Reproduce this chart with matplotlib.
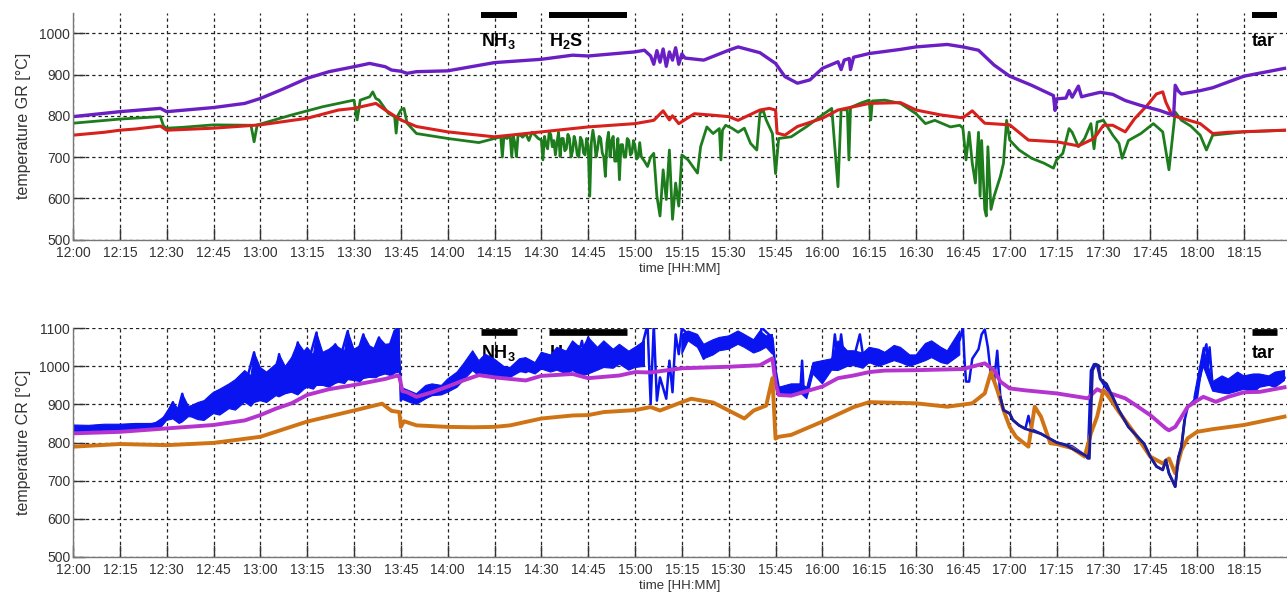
import numpy as np
import matplotlib
matplotlib.use("Agg")
import matplotlib.pyplot as plt

plt.rcParams['font.family'] = ['Liberation Sans', 'DejaVu Sans']
plt.rcParams['mathtext.fontset'] = 'custom'
plt.rcParams['mathtext.rm'] = 'Liberation Sans'
plt.rcParams['mathtext.bf'] = 'Liberation Sans:bold'

# ---------------- data (time in minutes after 12:00) ----------------
tick_minutes = list(range(0, 376, 15))
tick_labels = ["12:00", "12:15", "12:30", "12:45", "13:00", "13:15", "13:30", "13:45",
               "14:00", "14:15", "14:30", "14:45", "15:00", "15:15", "15:30", "15:45",
               "16:00", "16:15", "16:30", "16:45", "17:00", "17:15", "17:30", "17:45",
               "18:00", "18:15"]

# Upper panel: gasifier temperatures GR
gr_purple_t = [0, 15, 28, 30, 45, 55, 60, 67, 75, 82, 90, 95, 100, 102, 105, 107, 110, 120, 135, 150,
               160, 165, 180, 183, 185, 186, 187, 188, 189, 190, 191, 192, 193, 194, 195, 196, 202, 210,
               213, 220, 225, 228, 232, 236, 240, 245, 246, 247, 248.6, 249, 250, 255, 265, 270, 280,
               285, 290, 295, 300, 307, 314, 314.5, 315, 318, 319, 320, 322, 323, 325, 329, 333, 337,
               342, 348, 351, 352.5, 353, 354, 355, 361, 365, 375, 388]
gr_purple_v = [798, 810, 818, 810, 820, 830, 842, 864, 891, 907, 919, 927, 919, 911, 908, 903, 907, 909, 929, 937,
               947, 945, 955, 959, 945, 925, 958, 930, 962, 920, 955, 935, 965, 925, 950, 940, 935, 959,
               967, 953, 927, 895, 879, 887, 915, 931, 912, 935, 939, 912, 942, 951, 961, 967, 973,
               967, 959, 923, 896, 874, 849, 813, 841, 843, 861, 845, 872, 846, 850, 857, 852, 837,
               825, 813, 805, 802, 874, 860, 853, 861, 868, 896, 915]

gr_red_t = [0, 10, 15, 20, 28, 30, 45, 60, 75, 85, 90, 97, 100, 105, 110, 120, 130, 135, 140, 150, 165,
            180, 186, 189, 191, 192, 194, 199, 204, 210, 213, 220, 223, 225, 225.5, 228, 232, 240, 245,
            250, 255, 265, 270, 278, 285, 288, 292, 300, 306, 315, 322, 327, 330, 333, 337, 340, 344,
            347, 349, 350, 352, 357, 361, 365, 370, 388]
gr_red_v = [753, 760, 765, 768, 775, 765, 770, 778, 794, 814, 818, 830, 814, 790, 774, 761, 753, 749, 753, 761, 773,
            781, 789, 812, 790, 800, 781, 805, 802, 798, 789, 814, 818, 814, 758, 753, 774, 794, 814,
            822, 830, 832, 814, 802, 795, 812, 782, 778, 741, 737, 727, 745, 777, 777, 761, 793, 825,
            853, 858, 833, 801, 790, 781, 757, 760, 765]

gr_green_t = [0, 15, 28, 29, 30, 35, 45, 57, 58, 59, 60, 70, 80, 90, 91, 92, 95, 96, 97, 98, 101, 103, 103.5,
              104, 105, 106, 107, 110, 120, 130, 135,
              137, 137.5, 138, 139, 140, 140.5, 141, 141.5, 142, 142.5, 143, 144, 145, 146, 147, 148, 149,
              150, 150.5, 151, 151.5, 152, 152.5, 153, 153.5, 154, 154.5, 155, 155.5, 156, 156.5, 157, 157.5,
              158, 158.5, 159, 159.5, 160, 160.5, 161, 161.5, 162, 162.5, 163, 163.5, 164, 164.5, 165, 165.5,
              166, 166.5, 167, 167.5, 168, 168.5, 169, 169.5, 170, 170.5, 171, 171.5, 172, 172.5, 173, 173.5,
              174, 174.5, 175, 175.5, 176, 176.5, 177, 177.5, 178, 178.5, 179, 179.5, 180, 180.5, 181, 181.5,
              182, 183, 184, 185, 186,
              187, 188, 189, 190, 191, 192, 193, 194, 195, 197, 200, 201, 203, 205, 207, 207.5, 208,
              209, 211, 213, 215, 217, 219, 220, 221, 222, 224, 225, 226, 230, 235, 240, 243, 245, 246,
              248, 248.5, 249, 252, 255, 255.5, 256, 260, 265, 270, 273, 276, 281, 284, 285, 286, 287, 288,
              289, 290, 290.5, 291, 292, 292.5, 293, 294, 295, 297, 298, 299, 300, 303, 307, 311, 314, 315,
              317, 319, 320, 322, 324, 326, 327, 328, 330, 333, 335, 336, 338, 342, 346, 349, 351, 352, 353,
              355, 358, 361, 363, 365, 370, 375, 388]
gr_green_v = [782, 792, 798, 775, 770, 772, 778, 777, 737, 778, 780, 802, 822, 838, 790, 838, 846, 858, 842, 838, 806, 798, 758,
              800, 814, 818, 782, 757, 745, 735, 745,
              749, 700, 749, 745, 752, 700, 750, 735, 701, 750, 755, 748, 757, 740, 760, 753, 745,
              741, 693, 750, 730, 720, 760, 755, 725, 740, 705, 735, 760, 701, 745, 745, 715,
              720, 755, 745, 700, 715, 750, 735, 705, 700, 748, 740, 710, 705, 745, 725, 605,
              735, 765, 740, 700, 720, 750, 745, 710, 700, 653, 735, 760, 700, 740, 750, 690,
              690, 745, 645, 730, 730, 700, 700, 745, 740, 705, 710, 740, 725, 695, 700, 735,
              701, 690, 677, 700, 709,
              605, 557, 669, 597, 717, 549, 637, 581, 705, 693, 661, 725, 773, 757, 769, 693, 765,
              777, 770, 760, 770, 733, 717, 806, 814, 790, 757, 660, 745, 749, 774, 802, 818, 628, 815,
              814, 693, 820, 830, 838, 790, 836, 838, 830, 805, 781, 789, 773, 777, 770, 693, 760, 685,
              637, 760, 605, 740, 573, 557, 725, 573, 605, 653, 685, 789, 741, 717, 697, 685, 673, 693,
              709, 769, 760, 725, 745, 781, 720, 785, 789, 753, 733, 697, 740, 757, 781, 761, 669, 740, 809,
              789, 775, 753, 717, 753, 757, 761, 765]

# Lower panel: combustion reactor temperatures CR
cr_blue_t = [0, 15, 25, 30, 32, 33, 35, 36, 38, 42, 45, 50, 55, 58, 59, 60, 65, 66, 67, 70, 72, 73, 75, 78, 79,
             80, 84, 85, 88, 89, 90, 93, 94, 95, 98, 99, 100, 103, 104, 104.7, 105, 106, 108, 110, 115, 120,
             125, 128, 132, 135, 140, 145, 150, 155, 158, 162, 163, 164, 165, 166, 168, 172, 176, 180, 182,
             184, 185, 186, 187, 188, 190, 191, 192, 193, 194, 195, 197, 200, 202, 203, 207, 210, 213, 215,
             220, 220.5, 224, 225, 226, 226.5, 228, 230, 233, 233.5, 234, 235, 237, 240, 243, 244, 245, 246,
             247, 248, 250, 252, 253, 255, 260, 265, 270, 275, 280, 284, 285, 285.5, 286, 287, 288, 290, 291,
             292, 293, 294, 295, 296, 297, 298, 300, 301, 303, 305, 306, 307, 310, 315, 320, 324, 325, 326,
             327, 328, 329, 330, 333, 335, 338, 343, 345, 347, 349, 350, 351, 353, 354, 355, 356, 357, 359,
             360, 362, 363, 363.5, 364, 365, 366, 368, 370, 375, 380, 388]
cr_blue_v = [837, 840, 842, 870, 906, 865, 928, 870, 885, 900, 905, 920, 945, 1037, 950, 955, 965, 1032, 968, 980, 1063, 990, 1000, 1089, 1000,
             995, 1058, 1005, 1093, 1005, 1005, 1084, 1010, 1015, 1076, 1020, 1020, 1093, 1100, 990, 910, 930, 920, 912, 938, 950,
             985, 1015, 1005, 997, 995, 985, 1005, 1015, 1020, 1035, 1067, 1020, 1076, 1020, 1015, 1045, 1030, 1025, 1045,
             1110, 902, 1110, 910, 971, 915, 1015, 932, 1084, 1032, 1100, 1084, 1060, 1020, 1050, 1060, 1060, 1075, 1065,
             1065, 1102, 1075, 990, 945, 935, 935, 940, 945, 1015, 940, 925, 1000, 985, 1000, 1084, 1010, 1084,
             1015, 1020, 1020, 1084, 1030, 1030, 1020, 1030, 1015, 1040, 1025, 1070, 1102, 1020, 960, 960, 1020, 1045, 1084,
             1097, 1050, 975, 960, 1041, 919, 885, 876, 859, 845, 836, 870, 835, 823, 800, 790, 767, 758, 989,
             1006, 1002, 967, 954, 919, 884, 841, 797, 763, 737, 728, 754, 719, 684, 760, 789, 858, 893, 910,
             920, 1032, 1058, 1000, 1050, 945, 945, 960, 950, 955, 955, 970]

# noise envelope of the blue trace (lower / upper edge); NaN separates segments
cr_blue_band_t = [0, 5, 10, 15, 20, 25, 28, 30, 32, 34, 35, 37, 38, 40, 42, 44, 45, 47, 50, 52, 55, 57, 58, 60,
                  62, 65, 66, 68, 70, 72, 74, 75, 77, 78, 80, 82, 84, 85, 87, 88, 90, 92, 93, 95, 97, 98, 100,
                  102, 103, 104.5, np.nan,
                  105, 108, 110, 113, 115, 118, 120, 123, 125, 128, 130, 132, 135, 138, 140, 143, 145, 148, 150,
                  153, 155, 158, 160, 163, 165, 168, 170, 173, 175, 178, 180, 183, np.nan,
                  195, 197, 200, 202, 205, 207, 210, 213, 215, 218, 220, 222, 224, np.nan,
                  226, 230, 233, 235, 237, 240, 243, 245, 248, 250, 253, 255, 258, 260, 263, 265, 268, 270, 273,
                  275, 278, 280, 284, np.nan,
                  359, 362, 365, 368, 370, 373, 375, 378, 380, 383, 385, 388]
cr_blue_band_lo = [828, 830, 832, 832, 834, 835, 838, 858, 862, 850, 854, 868, 867, 860, 858, 870, 876, 872, 889, 885,
                   906, 895, 905, 910, 905, 923, 920, 928, 932, 925, 940, 945, 940, 950, 950, 945, 955, 958, 955,
                   965, 963, 960, 968, 971, 970, 975, 980, 975, 982, 985, np.nan,
                   915, 905, 900, 915, 923, 925, 932, 945, 963, 989, 975, 980, 976, 970, 971, 985, 989, 980, 993,
                   985, 990, 980, 989, 975, 980, 990, 997, 995, 1006, 990, 997, 1000, np.nan,
                   1032, 1067, 1050, 1020, 1030, 1041, 1045, 1058, 1050, 1035, 1041, 1050, 1032, np.nan,
                   928, 923, 930, 915, 980, 954, 990, 989, 1000, 1002, 995, 1010, 1000, 1006, 1015, 1010, 1000,
                   1006, 1015, 1023, 1010, 1006, 1030, np.nan,
                   900, 1000, 935, 930, 928, 935, 940, 930, 945, 950, 945, 963]
cr_blue_band_hi = [846, 845, 848, 848, 850, 850, 855, 880, 906, 885, 928, 895, 897, 905, 910, 925, 932, 940, 954, 965,
                   989, 975, 1037, 997, 985, 1006, 1032, 1000, 1023, 1063, 1040, 1050, 1030, 1089, 1037, 1045, 1058,
                   1050, 1040, 1093, 1045, 1055, 1084, 1054, 1045, 1076, 1058, 1060, 1093, 1097, np.nan,
                   945, 935, 928, 950, 954, 950, 967, 985, 1006, 1041, 1015, 1032, 1019, 1000, 997, 1020, 1023,
                   1010, 1037, 1030, 1050, 1040, 1067, 1045, 1076, 1050, 1067, 1045, 1058, 1040, 1050, 1067, np.nan,
                   1084, 1093, 1084, 1058, 1070, 1076, 1080, 1093, 1084, 1070, 1093, 1080, 1084, np.nan,
                   945, 954, 954, 945, 1010, 1015, 1020, 1067, 1041, 1041, 1035, 1050, 1045, 1037, 1055, 1050, 1030,
                   1030, 1060, 1067, 1050, 1041, 1093, np.nan,
                   920, 1050, 960, 975, 967, 985, 975, 980, 980, 975, 985, 989]

cr_navy_t = [297, 298, 300, 301, 303, 305, 310, 315, 318, 320, 324, 325.5, 326.5, 327.5, 328.5, 329, 331, 333,
             335, 338, 343, 345, 347, 349, 350, 351, 353, 354, 355, 356]
cr_navy_v = [919, 885, 876, 859, 845, 836, 823, 800, 793, 784, 767, 758, 989, 1006, 1002, 967, 954, 919,
             884, 841, 797, 763, 737, 728, 754, 719, 684, 760, 789, 858]

cr_magenta_t = [0, 15, 30, 45, 55, 60, 65, 70, 75, 82, 90, 100, 104, 104.5, 105.5, 107, 110, 115, 120, 125, 130,
                135, 145, 150, 160, 165, 175, 180, 185, 195, 210, 220, 224, 225, 226, 230, 240, 245, 250, 255,
                260, 270, 285, 292, 295, 297, 300, 305, 315, 325, 328, 330, 333, 337, 340, 345, 350, 351, 353,
                355, 357, 360, 362, 366, 370, 375, 380, 388]
cr_magenta_v = [824, 828, 837, 846, 858, 872, 889, 903, 925, 940, 951, 967, 976, 973, 935, 932, 920, 932, 947, 963, 977,
                971, 963, 975, 980, 969, 976, 985, 984, 995, 999, 1003, 1021, 955, 925, 923, 947, 969, 976, 985,
                989, 990, 993, 1008, 990, 960, 942, 937, 929, 916, 940, 932, 927, 916, 900, 872, 837, 832, 841,
                867, 894, 910, 920, 907, 920, 932, 933, 945]

cr_orange_t = [0, 15, 30, 45, 60, 75, 90, 95, 99, 102, 104.5, 105, 106, 110, 120, 128, 135, 140, 150, 160, 165, 170,
               180, 185, 188, 195, 198, 205, 210, 215, 218, 222, 224, 225, 226, 230, 240, 250, 255, 270, 280, 288,
               292, 294, 296, 298, 300, 302, 306, 308, 310, 313, 315, 320, 324, 326, 328, 330, 332, 335, 340, 345,
               349, 351, 353, 355, 357, 360, 365, 375, 388]
cr_orange_v = [789, 796, 793, 799, 815, 855, 884, 894, 902, 883, 880, 841, 856, 845, 841, 840, 841, 845, 863, 871, 872, 880,
               885, 893, 884, 906, 915, 905, 884, 863, 884, 897, 969, 810, 815, 820, 855, 893, 906, 903, 894, 903,
               929, 985, 938, 885, 841, 815, 789, 894, 868, 798, 796, 785, 763, 824, 868, 938, 916, 880, 824, 763,
               745, 758, 719, 780, 811, 828, 835, 846, 868]

# Gas dosing periods (start, end in minutes after 12:00)
nh3_period = (130.6, 142.3)
h2s_period = (152.4, 177.4)
tar_period = (377.6, 385.6)

# ---------------- figure ----------------
W, H = 1287, 592
fig = plt.figure(figsize=(W / 100, H / 100), dpi=100)

ax1 = fig.add_axes([73 / W, (H - 239.5) / H, 1214 / W, 226.8 / H])
ax2 = fig.add_axes([73 / W, (H - 556.7) / H, 1214 / W, 228.4 / H])

C_PURPLE = '#6a1fc4'
C_RED = '#d8201c'
C_GREEN = '#1d7d1d'
C_BLUE = '#0a14f0'
C_NAVY = '#1c1c96'
C_MAG = '#b534cf'
C_ORANGE = '#cf7314'

xmax = 388.8


def style(ax, ymin, ymax, ylabel):
    ax.set_xlim(0, xmax)
    ax.set_ylim(ymin, ymax)
    ax.set_xticks(tick_minutes)
    ax.set_xticklabels(tick_labels)
    ax.set_yticks(list(range(500, int(ymax) + 1, 100)))
    ax.grid(True, color='#222222', linestyle=(0, (2.6, 2.4)), linewidth=0.9)
    ax.set_axisbelow(True)
    for s in ('top', 'right'):
        ax.spines[s].set_visible(False)
    for s in ('left', 'bottom'):
        ax.spines[s].set_color('#777777')
        ax.spines[s].set_linewidth(1.0)
    ax.tick_params(direction='in', length=8.5, width=1.0, color='#333333',
                   labelsize=10, labelcolor='#333333')
    ax.tick_params(axis='x', pad=4.5)
    ax.tick_params(axis='y', pad=2)
    ax.set_ylabel(ylabel, fontsize=11.5, color='#333333', labelpad=6)
    ax.set_xlabel('time [HH:MM]', fontsize=9.5, color='#333333', labelpad=2)


def markers(ax, ybar, ytext, lw):
    for (a, b) in (nh3_period, h2s_period, tar_period):
        ax.plot([a, b], [ybar, ybar], color='black', lw=lw, solid_capstyle='butt', zorder=1.5, clip_on=False)
    ax.text(nh3_period[0], ytext, r'$\mathbf{NH_3}$', fontsize=13, ha='left', va='baseline', zorder=1.4)
    ax.text(h2s_period[0], ytext, r'$\mathbf{H_2S}$', fontsize=13, ha='left', va='baseline', zorder=1.4)
    ax.text(tar_period[0], ytext, 'tar', fontsize=13, fontweight='bold', ha='left', va='baseline', zorder=1.4)


# upper panel
style(ax1, 500, 1050, 'temperature GR [°C]')
markers(ax1, 1044, 969, 4.3)
ax1.plot(gr_green_t, gr_green_v, color=C_GREEN, lw=2.0, zorder=2)
ax1.plot(gr_red_t, gr_red_v, color=C_RED, lw=2.2, zorder=2.1)
ax1.plot(gr_purple_t, gr_purple_v, color=C_PURPLE, lw=2.4, zorder=2.2)

# lower panel
style(ax2, 500, 1100, 'temperature CR [°C]')
markers(ax2, 1091, 1021, 4.8)
bt = np.array(cr_blue_band_t, dtype=float)
blo = np.array(cr_blue_band_lo, dtype=float)
bhi = np.array(cr_blue_band_hi, dtype=float)
ok = np.isfinite(bt)
ax2.fill_between(np.where(ok, bt, 0), np.where(ok, blo, 0), np.where(ok, bhi, 0), where=ok,
                 color=C_BLUE, lw=0.8, zorder=2, interpolate=False)
ax2.plot(cr_blue_t, cr_blue_v, color=C_BLUE, lw=1.8, zorder=2)
ax2.plot(cr_magenta_t, cr_magenta_v, color=C_MAG, lw=2.8, zorder=2.1)
ax2.plot(cr_orange_t, cr_orange_v, color=C_ORANGE, lw=2.8, zorder=2.2)
ax2.plot(cr_navy_t, cr_navy_v, color=C_NAVY, lw=2.0, zorder=2.3)

fig.savefig('out.png', dpi=100)
